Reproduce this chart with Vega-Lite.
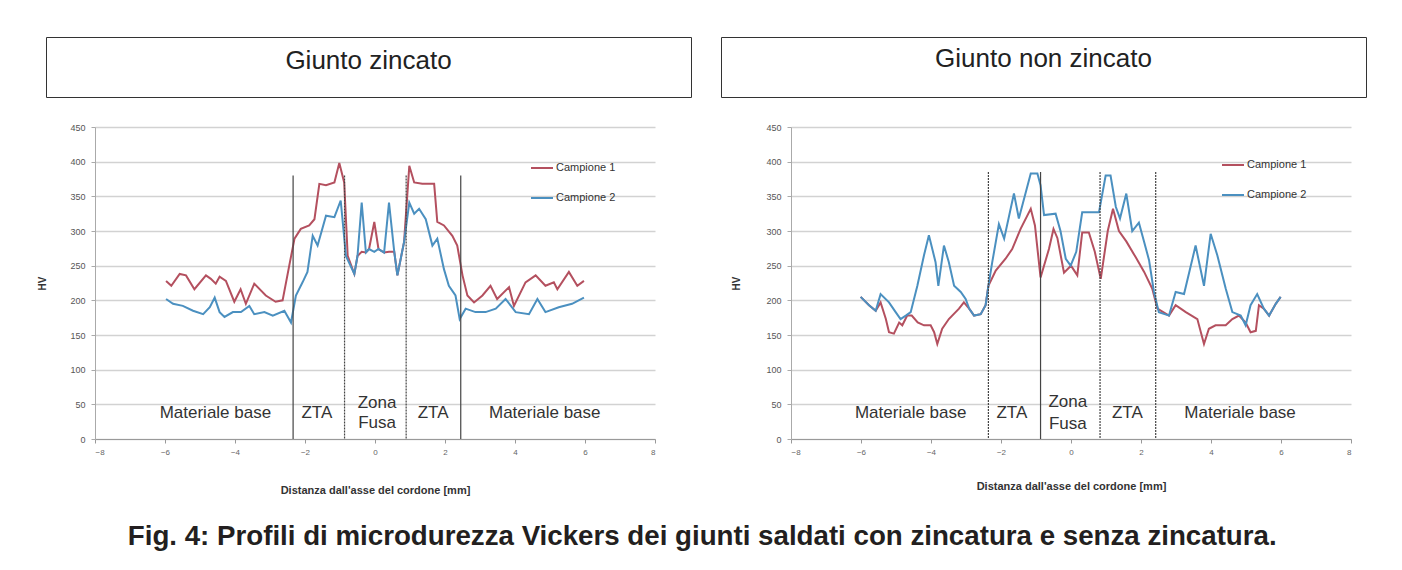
{
  "$schema": "https://vega.github.io/schema/vega-lite/v6.json",
  "background": "white",
  "padding": {"left": 37, "top": 36, "right": 10, "bottom": 10},
  "config": {
    "font": "Liberation Sans",
    "view": {"stroke": null},
    "axis": {"labelFont": "Liberation Sans", "titleFont": "Liberation Sans"}
  },
  "title": {
    "text": "Fig. 4: Profili di microdurezza Vickers dei giunti saldati con zincatura e senza zincatura.",
    "orient": "bottom",
    "anchor": "middle",
    "fontSize": 27.7,
    "fontWeight": "bold",
    "font": "Liberation Sans",
    "color": "#231f20",
    "offset": 28
  },
  "datasets": {
    "titoloA": [{"t": "Giunto zincato"}],
    "titoloB": [{"t": "Giunto non zincato"}],
    "zincato": [
      {"s": "Campione 1", "x": -5.97, "hv": 228}, {"s": "Campione 1", "x": -5.82, "hv": 221}, {"s": "Campione 1", "x": -5.58, "hv": 238}, {"s": "Campione 1", "x": -5.40, "hv": 236}, {"s": "Campione 1", "x": -5.16, "hv": 216}, {"s": "Campione 1", "x": -4.83, "hv": 236}, {"s": "Campione 1", "x": -4.69, "hv": 231}, {"s": "Campione 1", "x": -4.55, "hv": 224}, {"s": "Campione 1", "x": -4.44, "hv": 234}, {"s": "Campione 1", "x": -4.26, "hv": 228}, {"s": "Campione 1", "x": -4.02, "hv": 198}, {"s": "Campione 1", "x": -3.84, "hv": 216}, {"s": "Campione 1", "x": -3.69, "hv": 195}, {"s": "Campione 1", "x": -3.45, "hv": 224}, {"s": "Campione 1", "x": -3.12, "hv": 207}, {"s": "Campione 1", "x": -2.84, "hv": 198}, {"s": "Campione 1", "x": -2.64, "hv": 200}, {"s": "Campione 1", "x": -2.45, "hv": 250}, {"s": "Campione 1", "x": -2.30, "hv": 289}, {"s": "Campione 1", "x": -2.12, "hv": 303}, {"s": "Campione 1", "x": -1.88, "hv": 308}, {"s": "Campione 1", "x": -1.73, "hv": 317}, {"s": "Campione 1", "x": -1.59, "hv": 368}, {"s": "Campione 1", "x": -1.40, "hv": 366}, {"s": "Campione 1", "x": -1.16, "hv": 370}, {"s": "Campione 1", "x": -1.02, "hv": 398}, {"s": "Campione 1", "x": -0.88, "hv": 370}, {"s": "Campione 1", "x": -0.78, "hv": 264}, {"s": "Campione 1", "x": -0.59, "hv": 238}, {"s": "Campione 1", "x": -0.50, "hv": 264}, {"s": "Campione 1", "x": -0.38, "hv": 270}, {"s": "Campione 1", "x": -0.26, "hv": 269}, {"s": "Campione 1", "x": -0.17, "hv": 274}, {"s": "Campione 1", "x": -0.02, "hv": 313}, {"s": "Campione 1", "x": 0.10, "hv": 274}, {"s": "Campione 1", "x": 0.26, "hv": 269}, {"s": "Campione 1", "x": 0.40, "hv": 270}, {"s": "Campione 1", "x": 0.55, "hv": 270}, {"s": "Campione 1", "x": 0.64, "hv": 236}, {"s": "Campione 1", "x": 0.83, "hv": 284}, {"s": "Campione 1", "x": 0.98, "hv": 394}, {"s": "Campione 1", "x": 1.12, "hv": 370}, {"s": "Campione 1", "x": 1.35, "hv": 368}, {"s": "Campione 1", "x": 1.69, "hv": 368}, {"s": "Campione 1", "x": 1.78, "hv": 313}, {"s": "Campione 1", "x": 1.97, "hv": 308}, {"s": "Campione 1", "x": 2.21, "hv": 293}, {"s": "Campione 1", "x": 2.35, "hv": 279}, {"s": "Campione 1", "x": 2.50, "hv": 236}, {"s": "Campione 1", "x": 2.64, "hv": 207}, {"s": "Campione 1", "x": 2.83, "hv": 197}, {"s": "Campione 1", "x": 3.07, "hv": 207}, {"s": "Campione 1", "x": 3.30, "hv": 221}, {"s": "Campione 1", "x": 3.49, "hv": 202}, {"s": "Campione 1", "x": 3.83, "hv": 219}, {"s": "Campione 1", "x": 3.97, "hv": 192}, {"s": "Campione 1", "x": 4.30, "hv": 226}, {"s": "Campione 1", "x": 4.59, "hv": 236}, {"s": "Campione 1", "x": 4.87, "hv": 221}, {"s": "Campione 1", "x": 5.11, "hv": 226}, {"s": "Campione 1", "x": 5.21, "hv": 216}, {"s": "Campione 1", "x": 5.54, "hv": 241}, {"s": "Campione 1", "x": 5.78, "hv": 221}, {"s": "Campione 1", "x": 5.97, "hv": 228},
      {"s": "Campione 2", "x": -5.97, "hv": 202}, {"s": "Campione 2", "x": -5.77, "hv": 195}, {"s": "Campione 2", "x": -5.49, "hv": 192}, {"s": "Campione 2", "x": -5.20, "hv": 185}, {"s": "Campione 2", "x": -4.91, "hv": 180}, {"s": "Campione 2", "x": -4.72, "hv": 190}, {"s": "Campione 2", "x": -4.58, "hv": 204}, {"s": "Campione 2", "x": -4.44, "hv": 183}, {"s": "Campione 2", "x": -4.30, "hv": 176}, {"s": "Campione 2", "x": -4.06, "hv": 183}, {"s": "Campione 2", "x": -3.83, "hv": 183}, {"s": "Campione 2", "x": -3.59, "hv": 192}, {"s": "Campione 2", "x": -3.45, "hv": 180}, {"s": "Campione 2", "x": -3.16, "hv": 183}, {"s": "Campione 2", "x": -2.92, "hv": 178}, {"s": "Campione 2", "x": -2.59, "hv": 185}, {"s": "Campione 2", "x": -2.40, "hv": 168}, {"s": "Campione 2", "x": -2.26, "hv": 207}, {"s": "Campione 2", "x": -2.07, "hv": 226}, {"s": "Campione 2", "x": -1.93, "hv": 241}, {"s": "Campione 2", "x": -1.78, "hv": 293}, {"s": "Campione 2", "x": -1.64, "hv": 279}, {"s": "Campione 2", "x": -1.40, "hv": 322}, {"s": "Campione 2", "x": -1.16, "hv": 320}, {"s": "Campione 2", "x": -0.98, "hv": 344}, {"s": "Campione 2", "x": -0.83, "hv": 264}, {"s": "Campione 2", "x": -0.59, "hv": 238}, {"s": "Campione 2", "x": -0.50, "hv": 264}, {"s": "Campione 2", "x": -0.38, "hv": 341}, {"s": "Campione 2", "x": -0.26, "hv": 269}, {"s": "Campione 2", "x": -0.17, "hv": 274}, {"s": "Campione 2", "x": -0.02, "hv": 270}, {"s": "Campione 2", "x": 0.10, "hv": 274}, {"s": "Campione 2", "x": 0.26, "hv": 269}, {"s": "Campione 2", "x": 0.40, "hv": 341}, {"s": "Campione 2", "x": 0.55, "hv": 270}, {"s": "Campione 2", "x": 0.64, "hv": 236}, {"s": "Campione 2", "x": 0.83, "hv": 284}, {"s": "Campione 2", "x": 0.98, "hv": 341}, {"s": "Campione 2", "x": 1.12, "hv": 325}, {"s": "Campione 2", "x": 1.26, "hv": 332}, {"s": "Campione 2", "x": 1.45, "hv": 317}, {"s": "Campione 2", "x": 1.64, "hv": 279}, {"s": "Campione 2", "x": 1.78, "hv": 289}, {"s": "Campione 2", "x": 1.97, "hv": 245}, {"s": "Campione 2", "x": 2.11, "hv": 221}, {"s": "Campione 2", "x": 2.30, "hv": 207}, {"s": "Campione 2", "x": 2.42, "hv": 173}, {"s": "Campione 2", "x": 2.59, "hv": 188}, {"s": "Campione 2", "x": 2.87, "hv": 183}, {"s": "Campione 2", "x": 3.16, "hv": 183}, {"s": "Campione 2", "x": 3.45, "hv": 188}, {"s": "Campione 2", "x": 3.73, "hv": 202}, {"s": "Campione 2", "x": 4.02, "hv": 183}, {"s": "Campione 2", "x": 4.40, "hv": 180}, {"s": "Campione 2", "x": 4.64, "hv": 202}, {"s": "Campione 2", "x": 4.87, "hv": 183}, {"s": "Campione 2", "x": 5.25, "hv": 190}, {"s": "Campione 2", "x": 5.63, "hv": 195}, {"s": "Campione 2", "x": 5.97, "hv": 204}
    ],
    "nonzincato": [
      {"s": "Campione 1", "x": -6.01, "hv": 205}, {"s": "Campione 1", "x": -5.77, "hv": 193}, {"s": "Campione 1", "x": -5.58, "hv": 185}, {"s": "Campione 1", "x": -5.44, "hv": 197}, {"s": "Campione 1", "x": -5.29, "hv": 173}, {"s": "Campione 1", "x": -5.20, "hv": 154}, {"s": "Campione 1", "x": -5.06, "hv": 152}, {"s": "Campione 1", "x": -4.91, "hv": 168}, {"s": "Campione 1", "x": -4.82, "hv": 164}, {"s": "Campione 1", "x": -4.68, "hv": 178}, {"s": "Campione 1", "x": -4.55, "hv": 178}, {"s": "Campione 1", "x": -4.38, "hv": 168}, {"s": "Campione 1", "x": -4.20, "hv": 164}, {"s": "Campione 1", "x": -4.01, "hv": 164}, {"s": "Campione 1", "x": -3.91, "hv": 154}, {"s": "Campione 1", "x": -3.82, "hv": 137}, {"s": "Campione 1", "x": -3.68, "hv": 159}, {"s": "Campione 1", "x": -3.49, "hv": 173}, {"s": "Campione 1", "x": -3.20, "hv": 188}, {"s": "Campione 1", "x": -3.06, "hv": 197}, {"s": "Campione 1", "x": -2.91, "hv": 188}, {"s": "Campione 1", "x": -2.77, "hv": 178}, {"s": "Campione 1", "x": -2.58, "hv": 180}, {"s": "Campione 1", "x": -2.44, "hv": 193}, {"s": "Campione 1", "x": -2.36, "hv": 221}, {"s": "Campione 1", "x": -2.15, "hv": 243}, {"s": "Campione 1", "x": -1.87, "hv": 260}, {"s": "Campione 1", "x": -1.68, "hv": 274}, {"s": "Campione 1", "x": -1.44, "hv": 303}, {"s": "Campione 1", "x": -1.15, "hv": 332}, {"s": "Campione 1", "x": -1.03, "hv": 308}, {"s": "Campione 1", "x": -0.87, "hv": 233}, {"s": "Campione 1", "x": -0.63, "hv": 274}, {"s": "Campione 1", "x": -0.50, "hv": 303}, {"s": "Campione 1", "x": -0.39, "hv": 290}, {"s": "Campione 1", "x": -0.20, "hv": 240}, {"s": "Campione 1", "x": 0.00, "hv": 250}, {"s": "Campione 1", "x": 0.18, "hv": 236}, {"s": "Campione 1", "x": 0.32, "hv": 298}, {"s": "Campione 1", "x": 0.51, "hv": 298}, {"s": "Campione 1", "x": 0.68, "hv": 270}, {"s": "Campione 1", "x": 0.85, "hv": 231}, {"s": "Campione 1", "x": 1.05, "hv": 300}, {"s": "Campione 1", "x": 1.20, "hv": 332}, {"s": "Campione 1", "x": 1.37, "hv": 300}, {"s": "Campione 1", "x": 1.58, "hv": 285}, {"s": "Campione 1", "x": 1.85, "hv": 262}, {"s": "Campione 1", "x": 2.09, "hv": 241}, {"s": "Campione 1", "x": 2.32, "hv": 217}, {"s": "Campione 1", "x": 2.47, "hv": 188}, {"s": "Campione 1", "x": 2.80, "hv": 178}, {"s": "Campione 1", "x": 2.99, "hv": 193}, {"s": "Campione 1", "x": 3.28, "hv": 183}, {"s": "Campione 1", "x": 3.61, "hv": 173}, {"s": "Campione 1", "x": 3.71, "hv": 154}, {"s": "Campione 1", "x": 3.80, "hv": 137}, {"s": "Campione 1", "x": 3.94, "hv": 159}, {"s": "Campione 1", "x": 4.13, "hv": 164}, {"s": "Campione 1", "x": 4.42, "hv": 164}, {"s": "Campione 1", "x": 4.61, "hv": 173}, {"s": "Campione 1", "x": 4.80, "hv": 178}, {"s": "Campione 1", "x": 4.99, "hv": 168}, {"s": "Campione 1", "x": 5.13, "hv": 154}, {"s": "Campione 1", "x": 5.28, "hv": 156}, {"s": "Campione 1", "x": 5.37, "hv": 193}, {"s": "Campione 1", "x": 5.51, "hv": 188}, {"s": "Campione 1", "x": 5.66, "hv": 178}, {"s": "Campione 1", "x": 5.85, "hv": 195}, {"s": "Campione 1", "x": 5.99, "hv": 205},
      {"s": "Campione 2", "x": -6.01, "hv": 205}, {"s": "Campione 2", "x": -5.77, "hv": 193}, {"s": "Campione 2", "x": -5.58, "hv": 185}, {"s": "Campione 2", "x": -5.44, "hv": 209}, {"s": "Campione 2", "x": -5.20, "hv": 197}, {"s": "Campione 2", "x": -5.01, "hv": 183}, {"s": "Campione 2", "x": -4.87, "hv": 173}, {"s": "Campione 2", "x": -4.72, "hv": 178}, {"s": "Campione 2", "x": -4.58, "hv": 183}, {"s": "Campione 2", "x": -4.39, "hv": 221}, {"s": "Campione 2", "x": -4.20, "hv": 265}, {"s": "Campione 2", "x": -4.06, "hv": 294}, {"s": "Campione 2", "x": -3.87, "hv": 255}, {"s": "Campione 2", "x": -3.79, "hv": 221}, {"s": "Campione 2", "x": -3.63, "hv": 279}, {"s": "Campione 2", "x": -3.49, "hv": 255}, {"s": "Campione 2", "x": -3.34, "hv": 221}, {"s": "Campione 2", "x": -3.15, "hv": 212}, {"s": "Campione 2", "x": -3.01, "hv": 202}, {"s": "Campione 2", "x": -2.91, "hv": 188}, {"s": "Campione 2", "x": -2.77, "hv": 178}, {"s": "Campione 2", "x": -2.58, "hv": 180}, {"s": "Campione 2", "x": -2.44, "hv": 193}, {"s": "Campione 2", "x": -2.36, "hv": 221}, {"s": "Campione 2", "x": -2.25, "hv": 255}, {"s": "Campione 2", "x": -2.06, "hv": 310}, {"s": "Campione 2", "x": -1.91, "hv": 289}, {"s": "Campione 2", "x": -1.63, "hv": 354}, {"s": "Campione 2", "x": -1.49, "hv": 318}, {"s": "Campione 2", "x": -1.15, "hv": 383}, {"s": "Campione 2", "x": -0.96, "hv": 383}, {"s": "Campione 2", "x": -0.87, "hv": 366}, {"s": "Campione 2", "x": -0.77, "hv": 323}, {"s": "Campione 2", "x": -0.44, "hv": 325}, {"s": "Campione 2", "x": -0.30, "hv": 300}, {"s": "Campione 2", "x": -0.15, "hv": 260}, {"s": "Campione 2", "x": -0.01, "hv": 250}, {"s": "Campione 2", "x": 0.15, "hv": 270}, {"s": "Campione 2", "x": 0.32, "hv": 327}, {"s": "Campione 2", "x": 0.80, "hv": 327}, {"s": "Campione 2", "x": 0.99, "hv": 380}, {"s": "Campione 2", "x": 1.13, "hv": 380}, {"s": "Campione 2", "x": 1.28, "hv": 335}, {"s": "Campione 2", "x": 1.40, "hv": 318}, {"s": "Campione 2", "x": 1.58, "hv": 354}, {"s": "Campione 2", "x": 1.75, "hv": 300}, {"s": "Campione 2", "x": 1.94, "hv": 312}, {"s": "Campione 2", "x": 2.09, "hv": 284}, {"s": "Campione 2", "x": 2.23, "hv": 258}, {"s": "Campione 2", "x": 2.37, "hv": 212}, {"s": "Campione 2", "x": 2.51, "hv": 183}, {"s": "Campione 2", "x": 2.80, "hv": 178}, {"s": "Campione 2", "x": 2.99, "hv": 212}, {"s": "Campione 2", "x": 3.23, "hv": 209}, {"s": "Campione 2", "x": 3.56, "hv": 279}, {"s": "Campione 2", "x": 3.80, "hv": 221}, {"s": "Campione 2", "x": 3.99, "hv": 296}, {"s": "Campione 2", "x": 4.18, "hv": 265}, {"s": "Campione 2", "x": 4.42, "hv": 217}, {"s": "Campione 2", "x": 4.61, "hv": 183}, {"s": "Campione 2", "x": 4.85, "hv": 178}, {"s": "Campione 2", "x": 4.99, "hv": 164}, {"s": "Campione 2", "x": 5.13, "hv": 193}, {"s": "Campione 2", "x": 5.32, "hv": 209}, {"s": "Campione 2", "x": 5.51, "hv": 188}, {"s": "Campione 2", "x": 5.66, "hv": 178}, {"s": "Campione 2", "x": 5.85, "hv": 195}, {"s": "Campione 2", "x": 5.99, "hv": 205}
    ],
    "confiniA": [
      {"x": -2.34, "hv": 380, "tipo": "continua"},
      {"x": -0.87, "hv": 380, "tipo": "punteggiata"},
      {"x": 0.89, "hv": 380, "tipo": "punteggiata"},
      {"x": 2.45, "hv": 380, "tipo": "continua"}
    ],
    "confiniB": [
      {"x": -2.36, "hv": 385, "tipo": "punteggiata"},
      {"x": -0.87, "hv": 385, "tipo": "continua"},
      {"x": 0.83, "hv": 385, "tipo": "punteggiata"},
      {"x": 2.42, "hv": 385, "tipo": "punteggiata"}
    ],
    "zoneA": [
      {"x": -4.56, "hv": 37, "zona": "Materiale base"},
      {"x": -1.66, "hv": 37, "zona": "ZTA"},
      {"x": 0.06, "hv": 52, "zona": "Zona"},
      {"x": 0.06, "hv": 23, "zona": "Fusa"},
      {"x": 1.66, "hv": 37, "zona": "ZTA"},
      {"x": 4.85, "hv": 37, "zona": "Materiale base"}
    ],
    "zoneB": [
      {"x": -4.58, "hv": 37, "zona": "Materiale base"},
      {"x": -1.69, "hv": 37, "zona": "ZTA"},
      {"x": -0.09, "hv": 53, "zona": "Zona"},
      {"x": -0.09, "hv": 22, "zona": "Fusa"},
      {"x": 1.61, "hv": 37, "zona": "ZTA"},
      {"x": 4.83, "hv": 37, "zona": "Materiale base"}
    ]
  },
  "hconcat": [
    {
      "spacing": 25,
      "vconcat": [
        {
          "width": 645, "height": 60,
          "view": {"stroke": "#333", "strokeWidth": 1},
          "data": {"name": "titoloA"},
          "mark": {"type": "text", "fontSize": 26, "font": "Liberation Sans", "color": "#222", "dy": -6},
          "encoding": {"text": {"field": "t", "type": "nominal"}}
        },
        {
          "width": 609, "height": 312,
          "encoding": {
            "x": {"field": "x", "type": "quantitative",
              "scale": {"domain": [-8, 8], "range": [49, 609], "nice": false, "zero": false},
              "axis": {"values": [-8, -6, -4, -2, 0, 2, 4, 6, 8], "grid": false, "domainColor": "#999", "tickColor": "#999", "tickSize": 4, "labelFontSize": 8, "labelColor": "#666", "labelPadding": 5,
                "title": "Distanza dall'asse del cordone [mm]", "titleFontSize": 11, "titleFontWeight": "bold", "titleColor": "#333", "titlePadding": 28}},
            "y": {"field": "hv", "type": "quantitative",
              "scale": {"domain": [0, 450], "nice": false, "zero": true},
              "axis": {"values": [0, 50, 100, 150, 200, 250, 300, 350, 400, 450], "labelOverlap": false, "offset": -49, "grid": true, "gridColor": "#d2d2d2", "gridWidth": 1.5, "domainColor": "#aaa", "tickColor": "#aaa", "tickSize": 4, "labelFontSize": 9, "labelColor": "#555", "labelPadding": 6,
                "title": "HV", "titleFontSize": 10, "titleFontWeight": "bold", "titleColor": "#333", "titlePadding": 22}}
          },
          "layer": [
            {
              "data": {"name": "zincato"},
              "mark": {"type": "line", "strokeWidth": 2},
              "encoding": {
                "color": {"field": "s", "type": "nominal",
                  "scale": {"domain": ["Campione 1", "Campione 2"], "range": ["#b4505f", "#4b90c0"]},
                  "legend": {"orient": "none", "legendX": 484, "legendY": 119, "direction": "vertical", "title": null, "symbolType": "stroke", "symbolSize": 484, "symbolStrokeWidth": 2, "labelFontSize": 11, "labelColor": "#333", "rowPadding": 13, "labelOffset": 2}}
              }
            },
            {
              "data": {"name": "confiniA"},
              "mark": {"type": "rule", "color": "#444", "strokeWidth": 1.2},
              "encoding": {
                "y2": {"datum": 0},
                "strokeDash": {"field": "tipo", "type": "nominal", "scale": {"domain": ["continua", "punteggiata"], "range": [[1, 0], [2, 1]]}, "legend": null}
              }
            },
            {
              "data": {"name": "zoneA"},
              "mark": {"type": "text", "fontSize": 17, "color": "#333"},
              "encoding": {
                "text": {"field": "zona", "type": "nominal"}
              }
            }
          ]
        }
      ]
    },
    {
      "spacing": 25,
      "vconcat": [
        {
          "width": 645, "height": 60,
          "view": {"stroke": "#333", "strokeWidth": 1},
          "data": {"name": "titoloB"},
          "mark": {"type": "text", "fontSize": 26, "font": "Liberation Sans", "color": "#222", "dy": -8},
          "encoding": {"text": {"field": "t", "type": "nominal"}}
        },
        {
          "width": 630, "height": 312,
          "encoding": {
            "x": {"field": "x", "type": "quantitative",
              "scale": {"domain": [-8, 8], "range": [70, 630], "nice": false, "zero": false},
              "axis": {"values": [-8, -6, -4, -2, 0, 2, 4, 6, 8], "grid": false, "domainColor": "#999", "tickColor": "#999", "tickSize": 4, "labelFontSize": 8, "labelColor": "#666", "labelPadding": 5,
                "title": "Distanza dall'asse del cordone [mm]", "titleFontSize": 11, "titleFontWeight": "bold", "titleColor": "#333", "titlePadding": 24}},
            "y": {"field": "hv", "type": "quantitative",
              "scale": {"domain": [0, 450], "nice": false, "zero": true},
              "axis": {"values": [0, 50, 100, 150, 200, 250, 300, 350, 400, 450], "labelOverlap": false, "offset": -70, "grid": true, "gridColor": "#d2d2d2", "gridWidth": 1.5, "domainColor": "#aaa", "tickColor": "#aaa", "tickSize": 4, "labelFontSize": 9, "labelColor": "#555", "labelPadding": 6,
                "title": "HV", "titleFontSize": 10, "titleFontWeight": "bold", "titleColor": "#333", "titlePadding": 24}}
          },
          "layer": [
            {
              "data": {"name": "nonzincato"},
              "mark": {"type": "line", "strokeWidth": 2},
              "encoding": {
                "color": {"field": "s", "type": "nominal",
                  "scale": {"domain": ["Campione 1", "Campione 2"], "range": ["#b4505f", "#4b90c0"]},
                  "legend": {"orient": "none", "legendX": 500, "legendY": 116, "direction": "vertical", "title": null, "symbolType": "stroke", "symbolSize": 484, "symbolStrokeWidth": 2, "labelFontSize": 11, "labelColor": "#333", "rowPadding": 13, "labelOffset": 2}}
              }
            },
            {
              "data": {"name": "confiniB"},
              "mark": {"type": "rule", "color": "#444", "strokeWidth": 1.2},
              "encoding": {
                "y2": {"datum": 0},
                "strokeDash": {"field": "tipo", "type": "nominal", "scale": {"domain": ["continua", "punteggiata"], "range": [[1, 0], [2, 1]]}, "legend": null}
              }
            },
            {
              "data": {"name": "zoneB"},
              "mark": {"type": "text", "fontSize": 17, "color": "#333"},
              "encoding": {
                "text": {"field": "zona", "type": "nominal"}
              }
            }
          ]
        }
      ]
    }
  ],
  "spacing": 28,
  "resolve": {"legend": {"color": "independent"}, "scale": {"x": "independent", "y": "independent"}}
}
